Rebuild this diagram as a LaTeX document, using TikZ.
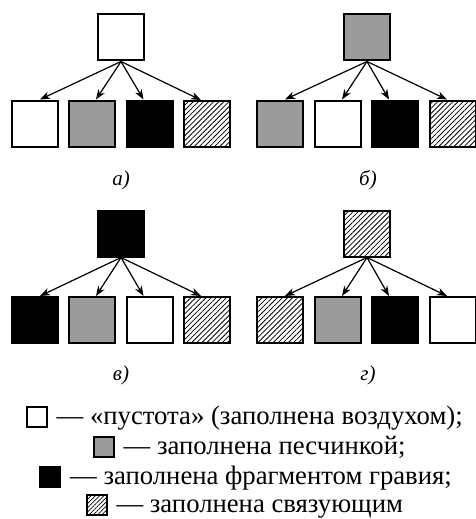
\documentclass[tikz,border=0pt]{standalone}
\usepackage{fontspec}
\setmainfont{Liberation Serif}
\usetikzlibrary{arrows.meta,patterns.meta,calc}

\definecolor{sandgray}{RGB}{155,155,155}

\tikzset{
  cell/.style={draw=black, line width=2pt, minimum size=46pt, inner sep=0pt},
  voidcell/.style={cell, fill=white},
  sandcell/.style={cell, fill=sandgray},
  gravelcell/.style={cell, fill=black},
  bindcell/.style={cell, pattern={Lines[angle=45,distance=3.6pt,line width=0.8pt]}},
  legcell/.style={draw=black, line width=2pt, minimum size=20pt, inner sep=0pt},
  arr/.style={-{Stealth[length=10pt,width=7.5pt,inset=3pt]}, line width=1.2pt},
  caption/.style={font=\fontsize{21}{23}\selectfont\itshape},
  legtext/.style={font=\fontsize{26.7}{28}\selectfont, anchor=base west, inner sep=0pt}
}

\begin{document}
\begin{tikzpicture}[x=1pt, y=-1pt]
  \useasboundingbox (0,0) rectangle (475,519);

  % ---- a) empty cell on top
  \node[voidcell]   (a0) at (121,37.5)  {};
  \node[voidcell]   (a1) at (35,123.5)  {};
  \node[sandcell]   (a2) at (92,123.5)  {};
  \node[gravelcell] (a3) at (149.5,123.5) {};
  \node[bindcell]   (a4) at (207,123.5) {};
  \node[caption]    (acap) at (121,180) {а)};

  % ---- б) sand grain on top
  \node[sandcell]   (b0) at (367,37.5)  {};
  \node[sandcell]   (b1) at (280,123.5) {};
  \node[voidcell]   (b2) at (338,123.5) {};
  \node[gravelcell] (b3) at (395,123.5) {};
  \node[bindcell]   (b4) at (453,123.5) {};
  \node[caption]    (bcap) at (368,180) {б)};

  % ---- в) gravel on top
  \node[gravelcell] (c0) at (121,233.5) {};
  \node[gravelcell] (c1) at (35,320)    {};
  \node[sandcell]   (c2) at (92,320)    {};
  \node[voidcell]   (c3) at (149.5,320) {};
  \node[bindcell]   (c4) at (207,320)   {};
  \node[caption]    (ccap) at (121,375) {в)};

  % ---- г) binder on top
  \node[bindcell]   (d0) at (367,233.5) {};
  \node[bindcell]   (d1) at (280,320)   {};
  \node[sandcell]   (d2) at (338,320)   {};
  \node[gravelcell] (d3) at (395,320)   {};
  \node[voidcell]   (d4) at (453,320)   {};
  \node[caption]    (dcap) at (368,375) {г)};

  % ---- arrows from each top cell to its four successors
  \foreach \p in {a,b,c,d}{
    \draw[arr] (\p0.south) -- ($(\p1.north)+(5,0)$);
    \draw[arr] (\p0.south) -- ($(\p2.north)+(4,0)$);
    \draw[arr] (\p0.south) -- ($(\p3.north)+(-6,0)$);
    \draw[arr] (\p0.south) -- ($(\p4.north)+(-6,0)$);
  }

  % ---- legend
  \node[legcell, fill=white] (l1) at (36.5,417) {};
  \node[legtext] (t1) at ($(l1.east)+(9,7)$) {— «пустота» (заполнена воздухом);};

  \node[legcell, fill=sandgray] (l2) at (103.5,447) {};
  \node[legtext] (t2) at ($(l2.east)+(9,7)$) {— заполнена песчинкой;};

  \node[legcell, fill=black] (l3) at (50,477) {};
  \node[legtext] (t3) at ($(l3.east)+(9,7)$) {— заполнена фрагментом гравия;};

  \node[legcell, pattern={Lines[angle=45,distance=3pt,line width=0.7pt]}] (l4) at (97,505) {};
  \node[legtext] (t4) at ($(l4.east)+(9,7)$) {— заполнена связующим};
\end{tikzpicture}
\end{document}
